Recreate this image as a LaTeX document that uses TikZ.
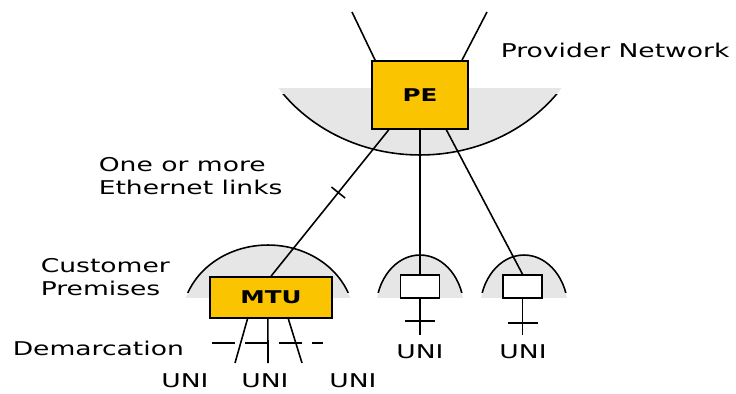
\documentclass[tikz,border=0pt]{standalone}
\usepackage{fontspec}
\setmainfont[FakeStretch=1.4]{DejaVu Sans}
\usetikzlibrary{positioning, calc, decorations.markings}
\definecolor{pegold}{RGB}{250,196,0}
\definecolor{domegray}{RGB}{230,230,230}
\tikzset{
	box/.style={draw, fill=pegold, inner sep=0pt, font=\bfseries},
	unibox/.style={draw, fill=white, minimum width=0.78cm, minimum height=0.46cm, inner sep=0pt},
	lbl/.style={inner sep=0pt, align=left},
	linkmark/.style={postaction={decorate, decoration={markings,
		mark=at position #1 with {\draw (0,-5pt) -- (0,5pt);}}}},
	demline/.style={dash pattern=on 13pt off 6pt},
}

\begin{document}
\begin{tikzpicture}[x=0.02cm, y=-0.02cm, line width=0.9pt, font=\fontsize{10.8}{13.5}\selectfont]
	\useasboundingbox (0,0) rectangle (736,393);

	% provider network area
	\begin{scope}
		\clip (200,88) rectangle (650,200);
		\fill[domegray] (420,0) ellipse [x radius=3.44cm, y radius=3.1cm];
	\end{scope}
	\begin{scope}
		\clip (200,94) rectangle (650,200);
		\draw (420,0) ellipse [x radius=3.44cm, y radius=3.1cm];
	\end{scope}

	% customer premises
	\foreach \cx/\cy/\rx/\ry in {268/320/1.72/1.5, 420/310/0.88/1.1, 524/310/0.88/1.1}{
		\begin{scope}
			\clip (\cx-100,200) rectangle (\cx+100,297);
			\fill[domegray] (\cx,\cy) ellipse [x radius=\rx cm, y radius=\ry cm];
		\end{scope}
		\begin{scope}
			\clip (\cx-100,200) rectangle (\cx+100,292);
			\draw (\cx,\cy) ellipse [x radius=\rx cm, y radius=\ry cm];
		\end{scope}
	}

	\draw (420,95) node[box, minimum width=1.92cm, minimum height=1.36cm] (pe) {PE}
		(271,297.5) node[box, minimum width=2.44cm, minimum height=0.82cm] (mtu) {MTU}
		(420,286.5) node[unibox] (u1) {}
		(522.5,286.5) node[unibox] (u2) {};

	\coordinate (up1) at (352,12);
	\coordinate (up2) at (487,12);
	\draw (up1) -- ($(pe.north west)!0.04!(pe.north east)$);
	\draw (up2) -- ($(pe.north west)!0.93!(pe.north east)$);

	\draw[linkmark=0.43] ($(pe.south west)!0.18!(pe.south east)$) -- (mtu.north);
	\draw (pe.south) -- (u1.north);
	\draw ($(pe.south west)!0.77!(pe.south east)$) -- (u2.north);

	% UNI legs
	\coordinate (e1) at (420,335);
	\coordinate (e2) at (522.5,335);
	\draw (u1.south) -- (e1);
	\draw (u2.south) -- (e2);
	\draw ($(u1.south)+(-15,22)$) -- ++(30,0);
	\draw ($(u2.south)+(-15,24)$) -- ++(30,0);

	\coordinate (m1) at (235,363);
	\coordinate (m2) at (268,363);
	\coordinate (m3) at (302,363);
	\draw ($(mtu.south west)!0.31!(mtu.south east)$) -- (m1);
	\draw ($(mtu.south west)!0.475!(mtu.south east)$) -- (m2);
	\draw ($(mtu.south west)!0.64!(mtu.south east)$) -- (m3);
	\draw[demline] (212,343) -- (323,343);

	% labels
	\node[lbl, anchor=west] (pn) at (500,50) {Provider Network};
	\node[lbl, anchor=west] (eth) at (98,176) {One or more\\Ethernet links};
	\node[lbl, anchor=west] (cp) at (40,277) {Customer\\Premises};
	\node[lbl, anchor=west] (dem) at (12,348) {Demarcation};
	\node[lbl] (uni1) at (185,381) {UNI};
	\node[lbl] (uni2) at (265,381) {UNI};
	\node[lbl] (uni3) at (353,381) {UNI};
	\node[lbl] (uni4) at (420,352) {UNI};
	\node[lbl] (uni5) at (523,352) {UNI};
\end{tikzpicture}
\end{document}
